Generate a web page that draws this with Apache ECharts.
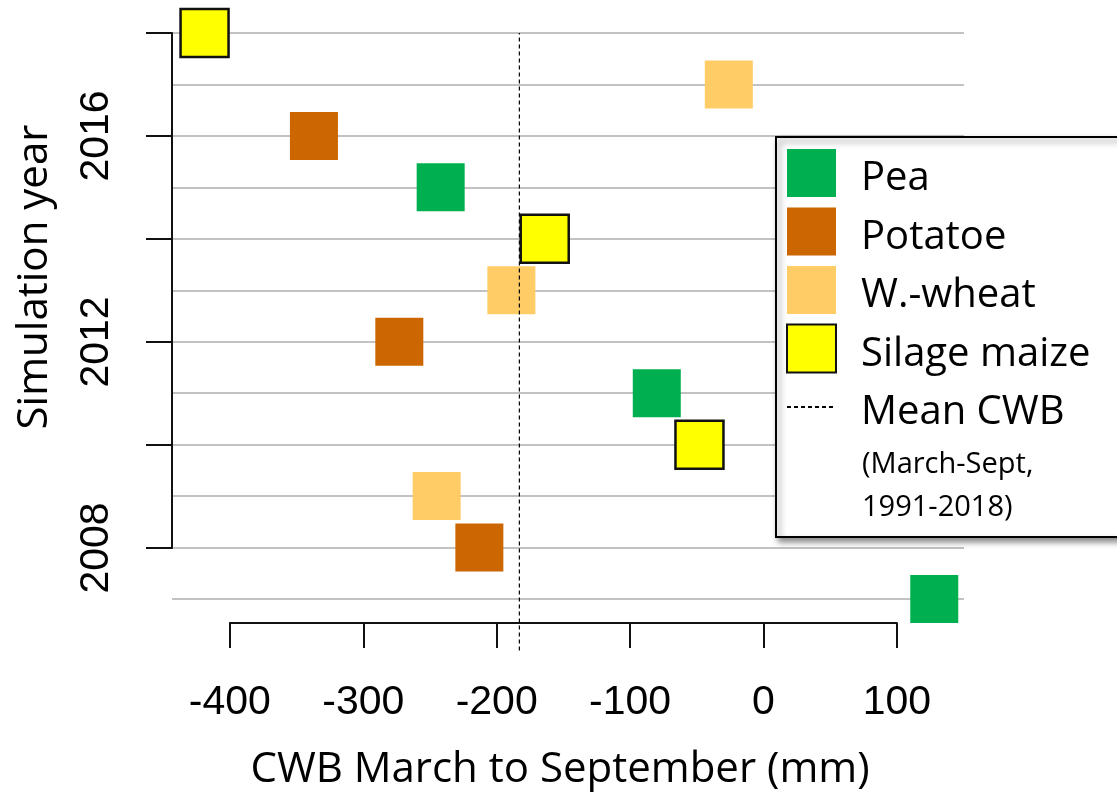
<!DOCTYPE html>
<html>
<head>
<meta charset="utf-8">
<style>
  html, body { margin: 0; padding: 0; background: #fff; }
  #chart { width: 1117px; height: 794px; }
</style>
<script src="https://cdn.jsdelivr.net/npm/echarts@6/dist/echarts.min.js"></script>
</head>
<body>
<div id="chart"></div>
<script>
// data (CWB in mm, March to September)
const peaYears = [2015, 2011, 2007];
const peaCWB = [-242, -80, 128];
const potatoYears = [2016, 2012, 2008];
const potatoCWB = [-337, -273, -213];
const wheatYears = [2017, 2013, 2009];
const wheatCWB = [-26, -189, -245];
const maizeYears = [2018, 2014, 2010];
const maizeCWB = [-419, -164, -48];
const meanCWB = -183;
const meanSpan = [2006, 2018];
const xLimits = [-443.4, 150.3];  // plot region of the original
const xTicks = [-400, 100];       // first / last tick of the drawn x axis
const yTicks = [2008, 2018];      // first / last tick of the drawn y axis
const yearRange = [2007, 2018];

const labelFont = 'Liberation Sans';
const textFont = 'Open Sans';

(function () {
  let myChart = echarts.init(document.getElementById('chart'));

  let plotLeft = 172, plotWidth = 792;
  let ppu = plotWidth / (xLimits[1] - xLimits[0]);
  let axisLeft = plotLeft + (xTicks[0] - xLimits[0]) * ppu;
  let axisWidth = (xTicks[1] - xTicks[0]) * ppu;

  let pair = (xs, ys) => xs.map((v, i) => [v, ys[i]]);

  let square = function (name, color, xs, ys, border) {
    return {
      name: name,
      type: 'scatter',
      xAxisIndex: 0,
      yAxisIndex: 0,
      symbol: 'rect',
      symbolSize: 48,
      clip: false,
      itemStyle: {
        color: color,
        opacity: 1,
        borderColor: border ? '#111' : color,
        borderWidth: border ? 2.5 : 0
      },
      data: pair(xs, ys)
    };
  };

  let option = {
    animation: false,
    backgroundColor: '#fff',
    grid: [
      // data + grey year lines
      { left: plotLeft, top: 33, width: plotWidth, height: 566 },
      // drawn x axis
      { left: axisLeft, width: axisWidth, top: 100, height: 523 },
      // drawn y axis
      { left: 172, top: 33, width: 100, height: 515 }
    ],
    xAxis: [
      { gridIndex: 0, type: 'value', min: xLimits[0], max: xLimits[1], show: false },
      {
        gridIndex: 1, type: 'value', min: xTicks[0], max: xTicks[1], interval: 100,
        position: 'bottom',
        axisLine: { lineStyle: { color: '#111', width: 2 } },
        axisTick: { length: 25, lineStyle: { color: '#111', width: 2 } },
        axisLabel: { margin: 59, color: '#000', fontFamily: labelFont, fontSize: 41 },
        splitLine: { show: false }
      },
      { gridIndex: 2, type: 'value', show: false }
    ],
    yAxis: [
      {
        gridIndex: 0, type: 'value', min: yearRange[0], max: yearRange[1], interval: 1,
        axisLine: { show: false },
        axisTick: { show: false },
        axisLabel: { show: false },
        splitLine: { show: true, lineStyle: { color: '#c2c2c2', width: 2 } }
      },
      { gridIndex: 1, type: 'value', show: false },
      {
        gridIndex: 2, type: 'value', min: yTicks[0], max: yTicks[1], interval: 2,
        axisLine: { show: true, lineStyle: { color: '#111', width: 2 } },
        axisTick: { show: true, length: 26, lineStyle: { color: '#111', width: 2 } },
        axisLabel: {
          rotate: 90,
          margin: 55,
          color: '#000',
          fontFamily: labelFont,
          fontSize: 41,
          formatter: v => ((v - yTicks[0]) % 4 === 0 ? String(v) : '')
        },
        splitLine: { show: false }
      }
    ],
    legend: {
      orient: 'vertical',
      left: 776,
      top: 137,
      padding: [10, 200, 104, 10],
      itemWidth: 49,
      itemHeight: 48,
      itemGap: 6.5,
      backgroundColor: '#fff',
      borderColor: '#000',
      borderWidth: 2,
      shadowColor: 'rgba(0,0,0,0.45)',
      shadowBlur: 6,
      shadowOffsetX: 3,
      shadowOffsetY: 4,
      formatter: name => '{t|' + name + '}',
      textStyle: {
        color: '#000',
        fontFamily: textFont,
        fontSize: 40,
        rich: {
          t: {
            color: '#000',
            fontFamily: textFont,
            fontSize: 40,
            lineHeight: 36,
            padding: [12, 0, 0, 20]
          }
        }
      },
      data: [
        'Pea', 'Potatoe', 'W.-wheat', 'Silage maize',
        { name: 'Mean CWB', itemStyle: { color: 'rgba(0,0,0,0)', borderWidth: 0 } }
      ]
    },
    graphic: [
      {
        type: 'text', z: 100, x: 862, y: 465,
        style: { text: '(March-Sept,', fill: '#000', font: '29px "Open Sans"', textAlign: 'left', textVerticalAlign: 'middle' }
      },
      {
        type: 'text', z: 100, x: 862, y: 508,
        style: { text: '1991-2018)', fill: '#000', font: '29px "Open Sans"', textAlign: 'left', textVerticalAlign: 'middle' }
      },
      {
        type: 'text', x: 35, y: 277, rotation: Math.PI / 2,
        style: { text: 'Simulation year', fill: '#000', font: '42px "Open Sans"', textAlign: 'center', textVerticalAlign: 'middle' }
      },
      {
        type: 'text', x: 560, y: 770,
        style: { text: 'CWB March to September (mm)', fill: '#000', font: '42px "Open Sans"', textAlign: 'center', textVerticalAlign: 'middle' }
      }
    ],
    series: [
      square('Pea', '#00b050', peaCWB, peaYears, false),
      square('Potatoe', '#cc6600', potatoCWB, potatoYears, false),
      square('W.-wheat', '#ffcc66', wheatCWB, wheatYears, false),
      square('Silage maize', '#ffff00', maizeCWB, maizeYears, true),
      {
        name: 'Mean CWB',
        type: 'line',
        xAxisIndex: 0,
        yAxisIndex: 0,
        symbol: 'none',
        clip: false,
        lineStyle: { color: '#000', width: 1.2, type: [4, 3] },
        itemStyle: { color: 'rgba(0,0,0,0)' },
        data: meanSpan.map(y => [meanCWB, y])
      }
    ]
  };

  myChart.setOption(option);
  window.addEventListener('resize', function () {
    myChart.resize();
  });
})();
</script>
</body>
</html>
